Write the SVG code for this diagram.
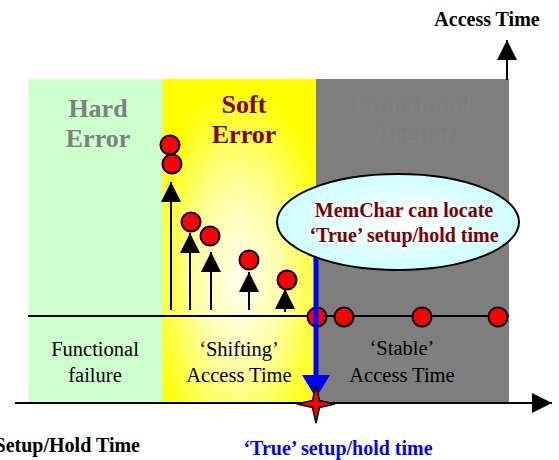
<svg xmlns="http://www.w3.org/2000/svg" width="559" height="460" viewBox="0 0 559 460">
<style>
.big{font-family:"Liberation Serif","Times New Roman",serif;font-weight:bold;font-size:26px;text-anchor:middle}
.lbl{font-family:"Liberation Serif","Times New Roman",serif;font-weight:normal;font-size:20.5px;text-anchor:middle;fill:#000}
.bold{font-family:"Liberation Serif","Times New Roman",serif;font-weight:bold;font-size:20px}
.ln{stroke:#000;stroke-width:2;fill:none}
.dot{fill:#ff0000;stroke:#000;stroke-width:2}
</style>
<defs>
<marker id="tri" viewBox="0 0 20 20" refX="20" refY="10" markerWidth="20" markerHeight="20" markerUnits="userSpaceOnUse" orient="auto">
<path d="M0,0 L20,10 L0,20 Z" fill="#000"/>
</marker>
<radialGradient id="yel" cx="50%" cy="62%" r="60%">
<stop offset="0" stop-color="#ffffee"/>
<stop offset="0.45" stop-color="#ffffa8"/>
<stop offset="1" stop-color="#ffff00"/>
</radialGradient>
<radialGradient id="cyan" cx="50%" cy="50%" r="55%">
<stop offset="0" stop-color="#ffffff"/>
<stop offset="1" stop-color="#c8ffff"/>
</radialGradient>
</defs>

<g id="region-hard">
<rect x="29" y="79" width="134" height="324" fill="#ccffcc"/>
<text class="big" x="98" y="117" fill="#808080">Hard</text>
<text class="big" x="98" y="147" fill="#808080">Error</text>
<text class="lbl" x="95" y="356">Functional</text>
<text class="lbl" x="95" y="382">failure</text>
</g>

<g id="region-soft">
<rect x="163" y="79" width="153" height="324" fill="url(#yel)"/>
<text class="big" x="244" y="113" fill="#800000">Soft</text>
<text class="big" x="244" y="143" fill="#800000">Error</text>
<text class="lbl" x="239" y="356">‘Shifting’</text>
<text class="lbl" x="239" y="382">Access Time</text>
</g>

<g id="region-stable">
<rect x="316" y="79" width="193" height="324" fill="#7e7e7e"/>
<text class="big" x="413" y="113" fill="#818181">Functional</text>
<text class="big" x="413" y="143" fill="#818181">Region</text>
<text class="lbl" x="402" y="355">‘Stable’</text>
<text class="lbl" x="402" y="382">Access Time</text>
</g>

<g id="connectors">
<line class="ln" x1="507" y1="80" x2="507" y2="40" marker-end="url(#tri)"/>
<line class="ln" x1="28" y1="316" x2="509" y2="316"/>
<line class="ln" x1="171" y1="310" x2="171" y2="182" marker-end="url(#tri)"/>
<line class="ln" x1="190" y1="310" x2="190" y2="233" marker-end="url(#tri)"/>
<line class="ln" x1="211" y1="310" x2="211" y2="252" marker-end="url(#tri)"/>
<line class="ln" x1="249" y1="310" x2="249" y2="272" marker-end="url(#tri)"/>
<line class="ln" x1="285" y1="312" x2="285" y2="289" marker-end="url(#tri)"/>
</g>

<g id="points">
<circle class="dot" cx="170" cy="145" r="9.5"/>
<circle class="dot" cx="172" cy="164" r="9.5"/>
<circle class="dot" cx="191" cy="222" r="9.5"/>
<circle class="dot" cx="210" cy="236" r="9.5"/>
<circle class="dot" cx="249" cy="260" r="9.5"/>
<circle class="dot" cx="287" cy="280" r="9.5"/>
<circle class="dot" cx="317" cy="317" r="9.5"/>
<circle class="dot" cx="344" cy="317" r="9.5"/>
<circle class="dot" cx="422" cy="317" r="9.5"/>
<circle class="dot" cx="498" cy="317" r="9.5"/>
</g>

<g id="true-marker">
<line x1="316" y1="250" x2="316" y2="378" stroke="#0000ff" stroke-width="5"/>
<polygon points="302,375 330,375 316,398" fill="#0000ff"/>
</g>

<g id="callout">
<ellipse cx="398" cy="222" rx="121" ry="48" fill="url(#cyan)" stroke="#000" stroke-width="2"/>
<text class="bold" x="404" y="217" text-anchor="middle" fill="#800000" font-size="21">MemChar can locate</text>
<text class="bold" x="404" y="242" text-anchor="middle" fill="#800000" font-size="21">‘True’ setup/hold time</text>
</g>

<g id="x-axis">
<line class="ln" x1="15" y1="403" x2="552" y2="403" marker-end="url(#tri)"/>
<text class="bold" x="140" y="452" text-anchor="end">Setup/Hold Time</text>
</g>

<g id="y-axis-label">
<text class="bold" x="487" y="26" text-anchor="middle">Access Time</text>
</g>

<g id="true-point">
<path d="M316,385 L319.5,400.5 L335,404 L319.5,407.5 L316,423 L312.5,407.5 L297,404 L312.5,400.5 Z" fill="#ff0000" stroke="#000" stroke-width="1.5"/>
<text class="bold" x="338" y="455" text-anchor="middle" fill="#0000ff" font-size="21">‘True’ setup/hold time</text>
</g>
</svg>
